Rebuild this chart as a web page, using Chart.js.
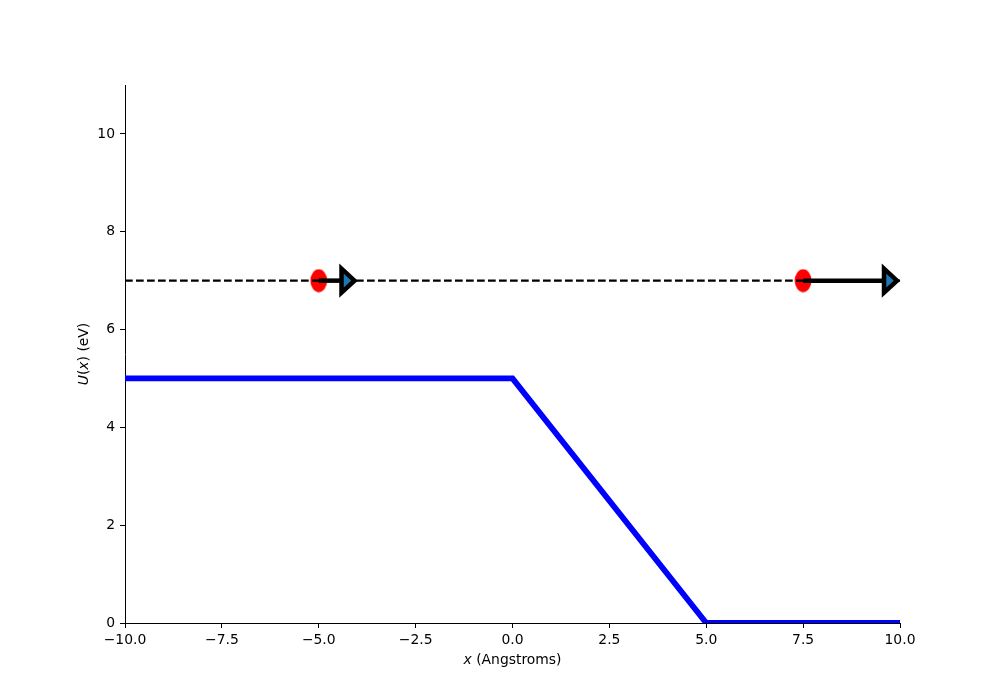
<!DOCTYPE html>
<html>
<head>
<meta charset="utf-8">
<script src="https://cdn.jsdelivr.net/npm/chart.js@4/dist/chart.umd.min.js"></script>
<style>
html,body{margin:0;padding:0;background:#fff;}
#wrap{width:1000px;height:700px;}
</style>
</head>
<body>
<div id="wrap"><canvas id="c" width="1000" height="700"></canvas></div>
<script>
// ---- data ----
const xTicks = [-10, -7.5, -5, -2.5, 0, 2.5, 5, 7.5, 10];
const yTicks = [0, 2, 4, 6, 8, 10];
const potentialX = [-10, 0, 5, 10];
const potentialU = [5, 5, 0, 0];
const energyX = [-10, 10];
const energyE = [7, 7];
const particleX = [-5, 7.5];
const particleY = [7, 7];
const arrowTipX = [-4, 10];
const xLabelParts = [["x", true], [" (Angstroms)", false]];
const yLabelParts = [["U", true], ["(", false], ["x", true], [") (eV)", false]];

const FONT = "'DejaVu Sans', sans-serif";
const FS = 13.9;

function pts(xs, ys) { return xs.map((x, i) => ({x: x, y: ys[i]})); }
function fmtX(v) { return v.toFixed(1).replace('-', '\u2212'); }
function fmtY(v) { return String(Math.round(v)).replace('-', '\u2212'); }

// red ellipse marker
const dot = document.createElement('canvas');
dot.width = 18; dot.height = 24;
(function(){
  const g = dot.getContext('2d');
  g.fillStyle = '#ff0000';
  g.beginPath();
  g.ellipse(9, 12, 8.4, 11.4, 0, 0, Math.PI * 2);
  g.fill();
})();

const arrowPlugin = {
  id: 'arrows',
  afterDatasetsDraw(chart) {
    const ctx = chart.ctx, xs = chart.scales.x, ys = chart.scales.y;
    ctx.save();
    for (let i = 0; i < particleX.length; i++) {
      const x0 = xs.getPixelForValue(particleX[i]);
      const xt = xs.getPixelForValue(arrowTipX[i]);
      const y = ys.getPixelForValue(particleY[i]);
      const tip = xt - 3, base = xt - 16, hh = 12;
      ctx.strokeStyle = '#000';
      ctx.lineWidth = 4.5;
      ctx.lineCap = 'butt';
      ctx.beginPath();
      ctx.moveTo(x0, y);
      ctx.lineTo(base, y);
      ctx.stroke();
      ctx.beginPath();
      ctx.moveTo(base, y - hh);
      ctx.lineTo(tip, y);
      ctx.lineTo(base, y + hh);
      ctx.closePath();
      ctx.fillStyle = '#1f77b4';
      ctx.fill();
      ctx.lineJoin = 'miter';
      ctx.lineWidth = 4.5;
      ctx.stroke();
    }
    ctx.restore();
  }
};

function drawParts(ctx, parts, cx, cy, rot) {
  ctx.save();
  ctx.translate(cx, cy);
  if (rot) ctx.rotate(rot);
  ctx.textBaseline = 'middle';
  ctx.textAlign = 'left';
  ctx.fillStyle = '#000';
  let total = 0;
  const w = parts.map(p => {
    ctx.font = (p[1] ? 'oblique ' : '') + FS + 'px ' + FONT;
    const m = ctx.measureText(p[0]).width;
    total += m; return m;
  });
  let x = -total / 2;
  parts.forEach((p, i) => {
    ctx.font = (p[1] ? 'oblique ' : '') + FS + 'px ' + FONT;
    ctx.fillText(p[0], x, 0);
    x += w[i];
  });
  ctx.restore();
}

const titlePlugin = {
  id: 'axisTitles',
  afterDraw(chart) {
    const a = chart.chartArea, ctx = chart.ctx;
    drawParts(ctx, xLabelParts, (a.left + a.right) / 2, 660, 0);
    drawParts(ctx, yLabelParts, 84, (a.top + a.bottom) / 2, -Math.PI / 2);
  }
};

const bg = {
  id: 'bg',
  beforeDraw(chart) {
    const ctx = chart.ctx;
    ctx.save(); ctx.fillStyle = '#fff';
    ctx.fillRect(0, 0, chart.width, chart.height);
    ctx.restore();
  }
};

new Chart(document.getElementById('c'), {
  type: 'scatter',
  data: {
    datasets: [
      {
        label: 'U(x)',
        data: pts(potentialX, potentialU),
        showLine: true,
        borderColor: '#0000ff',
        borderWidth: 5.8,
        pointRadius: 0,
        tension: 0,
        clip: 0,
        order: 3
      },
      {
        label: 'particles',
        data: pts(particleX, particleY),
        pointStyle: dot,
        pointRadius: 10,
        showLine: false,
        order: 2
      },
      {
        label: 'E',
        data: pts(energyX, energyE),
        showLine: true,
        borderColor: '#000',
        borderWidth: 2.1,
        borderDash: [7.7, 3.3],
        pointRadius: 0,
        clip: 0,
        order: 1
      }
    ]
  },
  options: {
    responsive: false,
    animation: false,
    events: [],
    layout: { padding: { left: 0, top: 85, right: 100, bottom: 0 } },
    plugins: { legend: { display: false }, tooltip: { enabled: false } },
    scales: {
      x: {
        type: 'linear',
        min: -10, max: 10,
        afterBuildTicks: s => { s.ticks = xTicks.map(v => ({value: v})); },
        afterFit: s => { s.height = 77; },
        grid: { display: true, drawOnChartArea: false, drawTicks: true, tickLength: 5, color: '#000', tickWidth: 1 },
        border: { display: true, color: '#000', width: 1 },
        ticks: { color: '#000', padding: 4, maxRotation: 0, autoSkip: false, font: { family: FONT, size: FS }, callback: v => fmtX(v) }
      },
      y: {
        type: 'linear',
        min: 0, max: 11,
        afterBuildTicks: s => { s.ticks = yTicks.map(v => ({value: v})); },
        afterFit: s => { s.width = 125; },
        grid: { display: true, drawOnChartArea: false, drawTicks: true, tickLength: 5, color: '#000', tickWidth: 1 },
        border: { display: true, color: '#000', width: 1 },
        ticks: { color: '#000', padding: 5, autoSkip: false, font: { family: FONT, size: FS }, callback: v => fmtY(v) }
      }
    }
  },
  plugins: [bg, arrowPlugin, titlePlugin]
});
</script>
</body>
</html>
